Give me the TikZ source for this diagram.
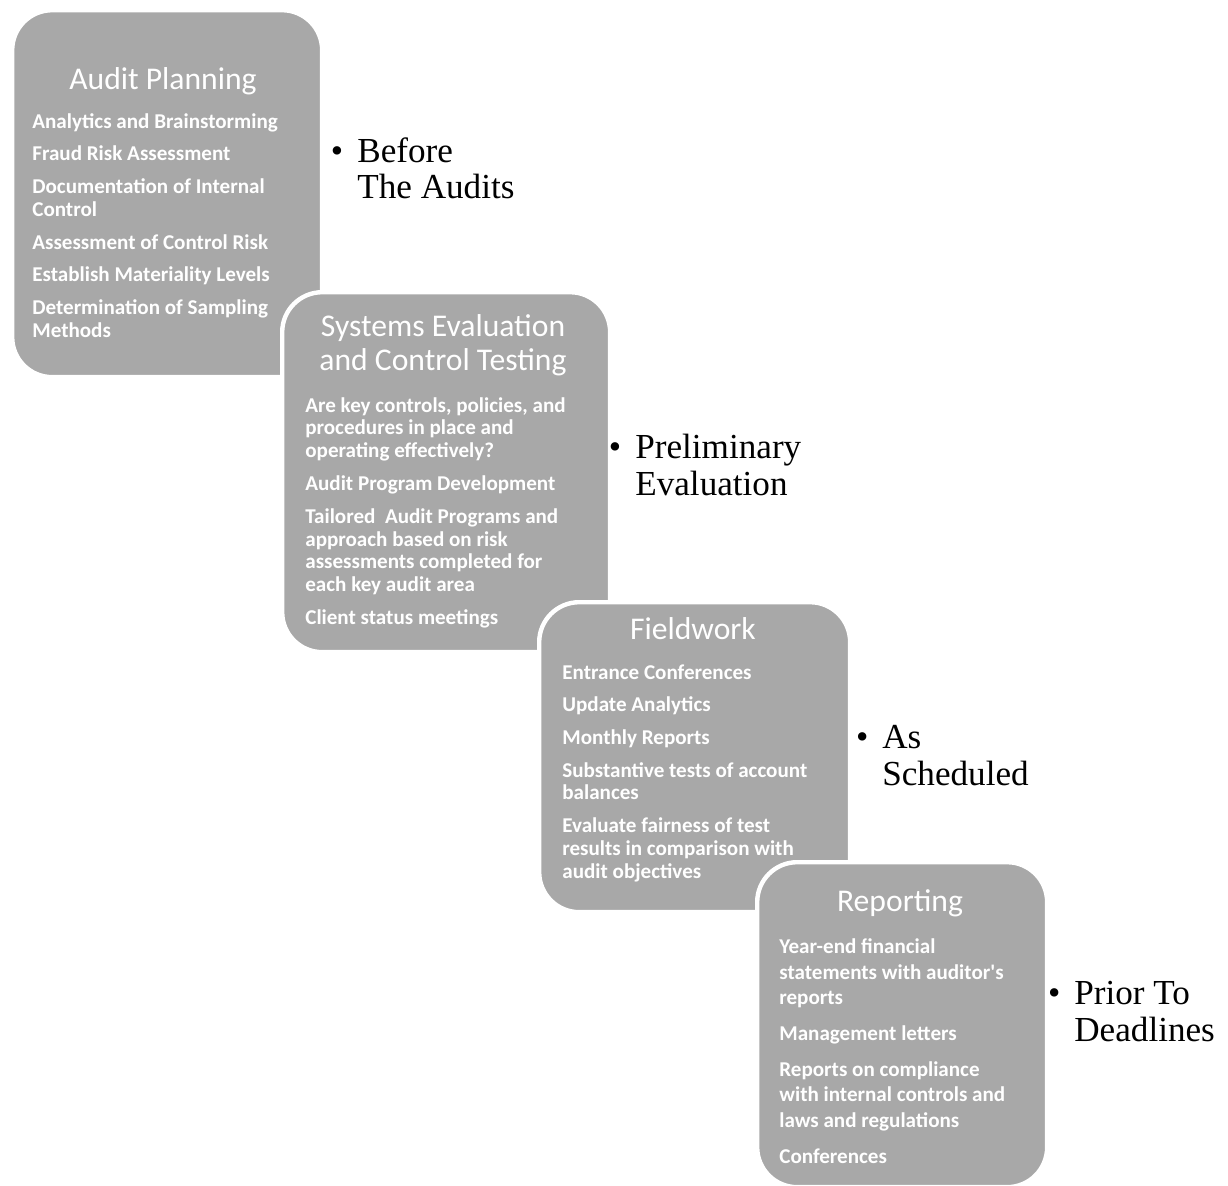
\documentclass[tikz,border=0pt]{standalone}
\usepackage{fontspec}
\setmainfont{Liberation Serif}
\newfontfamily\boxfont{Carlito}
\usetikzlibrary{positioning}
\definecolor{boxgray}{RGB}{168,168,168}
\newcommand{\nextitem}{\\[5.6pt]}
\newcommand{\dotmark}{\llap{\textbullet\hspace{8pt}}}

\tikzset{
  stage/.style={draw=white, line width=2.5pt, fill=boxgray, rounded corners=0.8cm, anchor=north west, inner sep=0pt},
  stagetitle/.style={text=white, font=\boxfont\fontsize{18}{19.5}\selectfont, align=center, anchor=north, inner sep=0pt, execute at begin node=\strut},
  stageitems/.style={text=white, font=\boxfont\bfseries\fontsize{12}{13}\selectfont, align=left, anchor=north west, inner sep=0pt, execute at begin node=\strut},
  when/.style={font=\fontsize{20}{21}\selectfont, align=left, anchor=north west, inner sep=0pt, execute at begin node=\strut}
}

\begin{document}
\begin{tikzpicture}[x=0.02cm, y=-0.02cm]
	\useasboundingbox (0,0) rectangle (1228,1186);
	
	% audit planning
	\node[stage, minimum width=6.2cm, minimum height=7.34cm] (plan) at (10,8) {};
	\node[stagetitle] (plantitle) at (163,65) {Audit Planning};
	\node[stageitems] (planitems) at (32,113) {Analytics and Brainstorming\nextitem
		Fraud Risk Assessment\nextitem
		Documentation of Internal\\Control\nextitem
		Assessment of Control Risk\nextitem
		Establish Materiality Levels\nextitem
		Determination of Sampling\\Methods};
	\node[when] (before) at (357,137) {\dotmark Before\\The Audits};
	
	% systems evaluation
	\node[stage, minimum width=6.56cm, minimum height=7.2cm] (syseval) at (280,290) {};
	\node[stagetitle] (sysevaltitle) at (443,314) {Systems Evaluation\\and Control Testing};
	\node[stageitems] (sysevalitems) at (305,397) {Are key controls, policies, and\\procedures in place and\\operating effectively?\nextitem
		Audit Program Development\nextitem
		Tailored\ \ Audit Programs and\\approach based on risk\\assessments completed for\\each key audit area\nextitem
		Client status meetings};
	\node[when] (prelim) at (635,434) {\dotmark Preliminary\\Evaluation};
	
	% fieldwork
	\node[stage, minimum width=6.22cm, minimum height=6.2cm] (field) at (537,600) {};
	\node[stagetitle] (fieldtitle) at (693,615) {Fieldwork};
	\node[stageitems] (fielditems) at (562,664) {Entrance Conferences\nextitem
		Update Analytics\nextitem
		Monthly Reports\nextitem
		Substantive tests of account\\balances\nextitem
		Evaluate fairness of test\\results in comparison with\\audit objectives};
	\node[when] (sched) at (882,725) {\dotmark As\\Scheduled};
	
	% reporting
	\node[stage, minimum width=5.8cm, minimum height=6.5cm] (report) at (755,860) {};
	\node[stagetitle] (reporttitle) at (900,887) {Reporting};
	\node[stageitems, font=\boxfont\bfseries\fontsize{12}{14.7}\selectfont] (reportitems) at (779,938) {Year-end financial\\statements with auditor's\\reports\nextitem
		Management letters\nextitem
		Reports on compliance\\with internal controls and\\laws and regulations\nextitem
		Conferences};
	\node[when] (prior) at (1074,981) {\dotmark Prior To\\Deadlines};
\end{tikzpicture}
\end{document}
